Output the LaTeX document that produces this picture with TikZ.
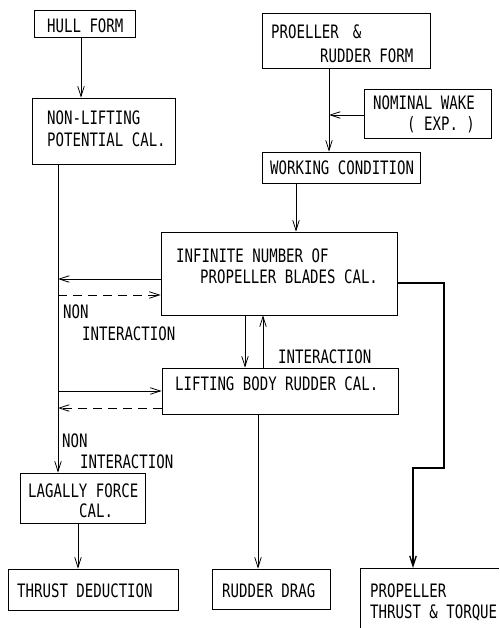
\documentclass[tikz,border=0pt]{standalone}
\usepackage{fontspec}
\newfontfamily\tw[FakeStretch=0.76]{DejaVu Sans Mono}
\usetikzlibrary{arrows.meta,fit}
\begin{document}
\begin{tikzpicture}[x=1pt,y=-1pt,
  box/.style={draw,line width=0.8pt,inner sep=0pt},
  lbl/.style={anchor=base west,inner sep=0pt,font={\tw\fontsize{18.5pt}{18.5pt}\selectfont}},
  ln/.style={line width=0.8pt},
  arr/.style={ln,-{Straight Barb[length=10pt,width=6.5pt]}},
  dsh/.style={arr,dash pattern=on 9pt off 6pt}]
\useasboundingbox (0,0) rectangle (499,628);
% boxes
\node[box,fit={(34,10)(135,37)}] (hull) {};
\node[box,fit={(32,98)(175,164)}] (nonlift) {};
\node[box,fit={(262,13)(430,68)}] (prop) {};
\node[box,fit={(364,89)(491,138)}] (wake) {};
\node[box,fit={(262,152)(420,183)}] (work) {};
\node[box,fit={(161,232)(397,315)}] (infinite) {};
\node[box,fit={(162,368)(398,414)}] (lifting) {};
\node[box,fit={(20,473)(145,523)}] (lagally) {};
\node[box,fit={(8,569)(178,610)}] (thrust) {};
\node[box,fit={(212,569)(330,609)}] (rudder) {};
\coordinate (propres) at (360,568);
\draw[ln] (499,568) -- (propres) -- (360,628);
% texts
\node[lbl] (t1) at (47,33) {HULL FORM};
\node[lbl] (t2) at (47,125) {NON-LIFTING};
\node[lbl] (t3) at (47,147) {POTENTIAL CAL.};
\node[lbl] (t4) at (271,39) {PROELLER\hspace{14pt}\&};
\node[lbl] (t5) at (320,63) {RUDDER FORM};
\node[lbl] (t6) at (373,110) {NOMINAL WAKE};
\node[lbl] (t7) at (407,131) {( EXP. )};
\node[lbl] (t8) at (270,175) {WORKING CONDITION};
\node[lbl] (t9) at (176,262) {INFINITE NUMBER OF};
\node[lbl] (t10) at (200,283) {PROPELLER BLADES CAL.};
\node[lbl] (t11) at (63,318) {NON};
\node[lbl] (t12) at (82,340) {INTERACTION};
\node[lbl] (t13) at (278,363) {INTERACTION};
\node[lbl] (t14) at (175,390) {LIFTING BODY RUDDER CAL.};
\node[lbl] (t15) at (62,447) {NON};
\node[lbl] (t16) at (80,468) {INTERACTION};
\node[lbl] (t17) at (28,497) {LAGALLY FORCE};
\node[lbl] (t18) at (79,517) {CAL.};
\node[lbl] (t19) at (17,597) {THRUST DEDUCTION};
\node[lbl] (t20) at (222,597) {RUDDER DRAG};
\node[lbl] (t21) at (370,597) {PROPELLER};
\node[lbl] (t22) at (370,618) {THRUST \& TORQUE};
% helper coordinates
\coordinate (lx) at (58,0);
\coordinate (j) at (329,115);
\coordinate (a1) at (58,279);
\coordinate (a2) at (58,295);
\coordinate (a3) at (58,391);
\coordinate (a4) at (58,408);
% connectors
\draw[arr] (hull.south -| 81,0) -- (nonlift.north -| 81,0);
\draw[arr] (prop.south -| j) -- (work.north -| j);
\draw[arr] (wake.west |- j) -- (j);
\draw[arr] (work.south -| 296,0) -- (infinite.north -| 296,0);
\draw[arr] (nonlift.south -| lx) -- (lagally.north -| lx);
\draw[arr] (infinite.west |- a1) -- (a1);
\draw[dsh] (a2) -- (infinite.west |- a2);
\draw[arr] (a3) -- (lifting.west |- a3);
\draw[dsh] (lifting.west |- a4) -- (a4);
\draw[arr] (infinite.south -| 245,0) -- (lifting.north -| 245,0);
\draw[arr] (lifting.north -| 263,0) -- (infinite.south -| 263,0);
\draw[arr] (lagally.south -| 78,0) -- (thrust.north -| 78,0);
\draw[arr] (lifting.south -| 258,0) -- (rudder.north -| 258,0);
\draw[arr,line width=1.3pt] (infinite.east |- 0,283) -- (444,283) -- (444,468) -- (413,468) -- (propres -| 413,0);
\end{tikzpicture}
\end{document}
